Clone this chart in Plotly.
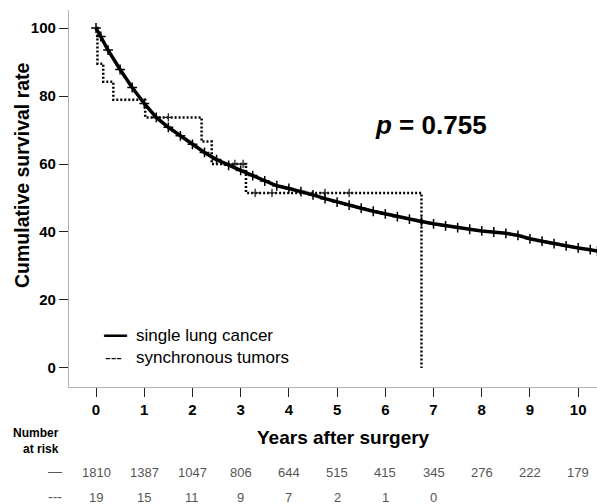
import plotly.graph_objects as go

# ---------------- data ----------------
single_years = [0, 0.1, 0.25, 0.5, 0.75, 1.0, 1.25, 1.5, 1.75, 2.0, 2.25, 2.5, 2.75,
                3.0, 3.25, 3.5, 3.75, 4.0, 4.25, 4.5, 4.75, 5.0, 5.25, 5.5, 5.75,
                6.0, 6.25, 6.5, 6.75, 7.0, 7.25, 7.5, 7.75, 8.0, 8.25, 8.5, 8.75,
                9.0, 9.25, 9.5, 9.75, 10.0, 10.25, 10.4]
single_surv = [100, 97.5, 93.5, 87.8, 82.5, 77.8, 73.7, 70.8, 68.3, 65.8, 63.4, 61.3, 59.6,
               58.1, 56.6, 55.0, 53.6, 52.8, 51.9, 50.9, 49.8, 48.8, 47.9, 47.0, 46.1,
               45.3, 44.5, 43.8, 43.1, 42.4, 41.8, 41.3, 40.8, 40.3, 40.0, 39.6, 39.0,
               38.0, 37.3, 36.6, 35.9, 35.3, 34.8, 34.4]

sync_years = [0, 0.03, 0.15, 0.36, 1.02, 2.19, 2.40, 3.11, 6.75]
sync_surv = [100, 89.5, 84.2, 78.9, 73.7, 66.6, 60.0, 51.5, 0]

sync_cens_years = [1.5, 2.88, 3.05, 3.3, 3.65, 4.75, 5.25]
sync_cens_surv = [73.7, 60.0, 60.0, 51.5, 51.5, 51.5, 51.5]

x_ticks = [0, 1, 2, 3, 4, 5, 6, 7, 8, 9, 10]
y_ticks = [0, 20, 40, 60, 80, 100]

risk_years = [0, 1, 2, 3, 4, 5, 6, 7, 8, 9, 10]
risk_single = [1810, 1387, 1047, 806, 644, 515, 415, 345, 276, 222, 179]
risk_sync = [19, 15, 11, 9, 7, 2, 1, 0]

legend_labels = ["single lung cancer", "synchronous tumors"]
p_text = "<i>p</i> = 0.755"

# ---------------- figure ----------------
W, H = 597, 504
ML, MR, MT, MB = 69, 0, 10, 117
XR = [-0.56, 10.39]
YR = [-5.6, 105.3]

fig = go.Figure()

fig.add_trace(go.Scatter(
    x=sync_years, y=sync_surv, mode="lines", line_shape="hv",
    line=dict(color="black", width=2.5, dash="2px,2px"),
    showlegend=False, hoverinfo="skip"))
fig.add_trace(go.Scatter(
    x=sync_cens_years, y=sync_cens_surv, mode="markers",
    marker=dict(symbol="cross-thin", size=6, line=dict(color="#222", width=1.3)),
    showlegend=False, hoverinfo="skip"))
fig.add_trace(go.Scatter(
    x=single_years, y=single_surv, mode="lines+markers",
    line=dict(color="black", width=3.5),
    marker=dict(symbol="cross-thin", size=7, line=dict(color="black", width=1.5)),
    showlegend=False, hoverinfo="skip"))

ann = []
font_main = "Liberation Sans, Arial, sans-serif"
font_risk = "Liberation Sans Narrow, Arial Narrow, Liberation Sans, Arial, sans-serif"

PW = W - ML - MR
PH = H - MT - MB

def px2paper(px):
    return (px - ML) / PW

def py2paper(py):
    return (H - MB - py) / PH

def add_text(px, py, text, size, color="black", family=font_main, xanchor="center",
             angle=0, align="center"):
    ann.append(dict(x=px2paper(px), y=py2paper(py), xref="paper", yref="paper",
                    xanchor=xanchor, yanchor="middle", align=align, textangle=angle,
                    text=text, showarrow=False,
                    font=dict(family=family, size=size, color=color)))

# p-value
add_text(431, 125, "<b>" + p_text + "</b>", 26)

# legend (drawn)
add_text(102, 334, "<b>—</b>", 23, xanchor="left")
add_text(103, 357, "---", 17, xanchor="left")
add_text(134, 335, legend_labels[0], 17, xanchor="left")
add_text(134, 357, legend_labels[1], 17, xanchor="left")

# axis titles
add_text(22, 175, "<b>Cumulative survival rate</b>", 19.5, angle=-90)
add_text(343, 437, "<b>Years after surgery</b>", 19)

# number at risk
add_text(61, 441, "<b>Number<br>at risk</b>", 12, xanchor="right", align="right")
add_text(55, 471, "—", 14, color="#555")
add_text(55, 497, "---", 14, color="#555")
for t, n in zip(risk_years, risk_single):
    ann.append(dict(x=t, y=py2paper(472), xref="x", yref="paper", xanchor="center",
                    yanchor="middle", text=str(n), showarrow=False,
                    font=dict(family=font_risk, size=13, color="#555")))
for t, n in zip(risk_years, risk_sync):
    ann.append(dict(x=t, y=py2paper(497), xref="x", yref="paper", xanchor="center",
                    yanchor="middle", text=str(n), showarrow=False,
                    font=dict(family=font_risk, size=13, color="#555")))

fig.update_layout(
    width=W, height=H,
    margin=dict(l=ML, r=MR, t=MT, b=MB, pad=0),
    paper_bgcolor="white", plot_bgcolor="white",
    annotations=ann,
    showlegend=False,
    xaxis=dict(range=XR, tickvals=x_ticks, ticktext=["<b>%d</b>" % v for v in x_ticks],
               showgrid=False, zeroline=False, showline=True, linecolor="#b5b5b5",
               linewidth=1.2, ticks="outside", ticklen=9, tickcolor="#222", tickwidth=1.2,
               automargin=False,
               tickfont=dict(family=font_main, size=15, color="black")),
    yaxis=dict(range=YR, tickvals=y_ticks, ticktext=["<b>%d</b>" % v for v in y_ticks],
               showgrid=False, zeroline=False, showline=True, linecolor="#b5b5b5",
               linewidth=1.2, ticks="outside", ticklen=9, tickcolor="#222", tickwidth=1.2,
               automargin=False,
               tickfont=dict(family=font_main, size=15, color="black")),
)

fig.write_html("out.html",
               config={"displayModeBar": False},
               post_script="document.body.style.margin='0';document.body.style.padding='0';"
                           "document.body.style.overflow='hidden';")
